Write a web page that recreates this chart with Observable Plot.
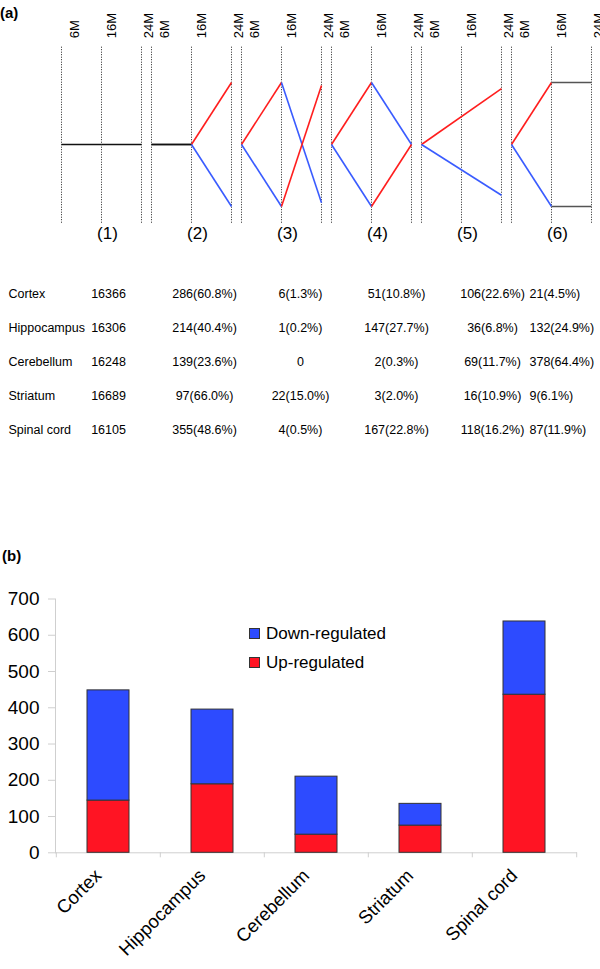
<!DOCTYPE html>
<html><head><meta charset="utf-8">
<script src="https://cdn.jsdelivr.net/npm/d3@7"></script>
<script src="https://cdn.jsdelivr.net/npm/@observablehq/plot@0.6"></script>
<style>
body{margin:0;background:#fff;font-family:"Liberation Sans",Arial,Helvetica,sans-serif;}
#wrap{position:relative;width:600px;height:969px;overflow:hidden;background:#fff;}
.svgbox{position:absolute;left:0;}
.panel{position:absolute;font-weight:bold;font-size:15px;line-height:15px;color:#000;}
.lg{position:absolute;font-size:17px;line-height:17px;color:#000;white-space:nowrap;}
.sw{position:absolute;width:9px;height:9px;border:0.6px solid #333;}
</style></head><body><div id="wrap"></div>
<script>
// ---------- (a) pattern diagram ----------
const patterns = ["(1)","(2)","(3)","(4)","(5)","(6)"];
const timePoints = ["6M","16M","24M"];
// each path: pattern index, time indices visited, relative expression level at those times
const pathPattern = [0,1,1,2,2,3,3,4,4,5,5];
const pathTimes = [[0,1,2],[0,1,2],[0,1,2],[0,1,2],[0,1,2],[0,1,2],[0,1,2],[0,2],[0,2],[0,1,2],[0,1,2]];
const pathLevels = [[0,0,0],[0,0,1],[0,0,-1],[0,1,-0.94],[0,-1,0.95],[0,1,0],[0,-1,0],[0,0.9],[0,-0.82],[0,1,1],[0,-1,-1]];

// ---------- (a) table ----------
const tissues = ["Cortex","Hippocampus","Cerebellum","Striatum","Spinal cord"];
const pattern1 = ["16366","16306","16248","16689","16105"];
const pattern2 = ["286(60.8%)","214(40.4%)","139(23.6%)","97(66.0%)","355(48.6%)"];
const pattern3 = ["6(1.3%)","1(0.2%)","0","22(15.0%)","4(0.5%)"];
const pattern4 = ["51(10.8%)","147(27.7%)","2(0.3%)","3(2.0%)","167(22.8%)"];
const pattern5 = ["106(22.6%)","36(6.8%)","69(11.7%)","16(10.9%)","118(16.2%)"];
const pattern6 = ["21(4.5%)","132(24.9%)","378(64.4%)","9(6.1%)","87(11.9%)"];

// ---------- (b) stacked bars ----------
const series = ["Up-regulated","Down-regulated"];
const upRegulated = [144,189,50,75,436];
const downRegulated = [304,206,160,60,202];
const yTicks = [0,100,200,300,400,500,600,700];

const FONT = '"Liberation Sans", Arial, Helvetica, sans-serif';
const wrap = document.getElementById("wrap");
function place(node, top){ const d=document.createElement("div"); d.className="svgbox"; d.style.top=top+"px"; d.appendChild(node); wrap.appendChild(d); }
function html(cls, text, left, top, extra){ const d=document.createElement("div"); d.className=cls; d.textContent=text; d.style.left=left+"px"; d.style.top=top+"px"; if(extra) Object.assign(d.style, extra); wrap.appendChild(d); return d; }

// diagram
const pos = (p, t) => p*9 + t*4;
const segs = [];
pathPattern.forEach((p,k)=>{
  const ts = pathTimes[k], ls = pathLevels[k];
  for (let j=0;j<ts.length-1;j++) segs.push({x1:pos(p,ts[j]), y1:ls[j], x2:pos(p,ts[j+1]), y2:ls[j+1]});
});
const grid = patterns.flatMap((p,i)=>timePoints.map((t,j)=>({label:t, t:j, x:pos(i,j)})));
const segColor = s => s.y2>s.y1 ? "#ff1e1e" : s.y2<s.y1 ? "#3a5cff" : (s.y1===0 ? "#111111" : "#555555");
const labelShift = [8.5, 5.5, 2.5];

const diagram = Plot.plot({
  width:600, height:250, marginLeft:61, marginRight:9, marginTop:46.7, marginBottom:26.7,
  x:{domain:[0,53], axis:null}, y:{domain:[-1.28,1.57], axis:null},
  color:{type:"identity"},
  style:{fontFamily:FONT, background:"white", color:"black"},
  marks:[
    Plot.ruleX(grid,{x:"x", stroke:"#222", strokeWidth:1, strokeDasharray:"1,1.5"}),
    Plot.link(segs,{x1:"x1",y1:"y1",x2:"x2",y2:"y2", stroke:segColor, strokeWidth:1.6}),
    ...timePoints.map((tp,j)=>Plot.text(grid.filter(g=>g.t===j),{x:"x", text:"label", frameAnchor:"top", rotate:-90, textAnchor:"start", dy:-9, dx:labelShift[j], fontSize:13})),
    Plot.text(patterns,{x:(d,i)=>pos(i,1), text:d=>d, frameAnchor:"bottom", dy:14.7, dx:6, fontSize:17})
  ]
});
place(diagram, 0);

// table
const cols = ["c1","c2","c3","c4","c5"];
const rows = tissues.map((t,i)=>({t, c1:pattern1[i], c2:pattern2[i], c3:pattern3[i], c4:pattern4[i], c5:pattern5[i], c6:pattern6[i]}));
const cells = rows.flatMap(r=>cols.map(c=>({t:r.t, c, text:r[c]})));
const table = Plot.plot({
  width:600, height:210, marginTop:41, marginBottom:30, marginLeft:107, marginRight:107,
  x:{type:"point", domain:cols, padding:0, axis:null},
  y:{type:"point", domain:tissues, padding:0, axis:null},
  style:{fontFamily:FONT, background:"white", color:"black"},
  marks:[
    Plot.text(rows,{y:"t", text:"t", frameAnchor:"left", textAnchor:"start", dx:-99, fontSize:12.5}),
    Plot.text(cells,{x:"c", y:"t", text:"text", fontSize:12.5}),
    Plot.text(rows,{x:()=>"c5", y:"t", text:"c6", textAnchor:"start", dx:37, fontSize:12.5})
  ]
});
place(table, 250);

// bars
const stack = tissues.flatMap((t,i)=>[{t, kind:series[0], v:upRegulated[i]},{t, kind:series[1], v:downRegulated[i]}]);
const bars = Plot.plot({
  width:600, height:409, marginTop:38.5, marginBottom:116.7, marginLeft:55, marginRight:23,
  x:{domain:tissues, paddingInner:0.594, paddingOuter:0.297, axis:null},
  y:{domain:[0,700], axis:null},
  color:{domain:series, range:["#ff1423","#2d4bff"]},
  style:{fontFamily:FONT, background:"white", color:"black"},
  marks:[
    Plot.frame({anchor:"left", stroke:"#cfcfcf"}),
    Plot.ruleY([0],{stroke:"#cfcfcf"}),
    Plot.axisY({ticks:yTicks, tickSize:7, tickPadding:9, stroke:"#cfcfcf", fill:"#000", fontSize:19, label:null, tickFormat:d=>String(d)}),
    Plot.axisX({tickSize:5, tickFormat:()=>"", dx:-52.2, stroke:"#cfcfcf", label:null}),
    Plot.axisX({ticks:[tissues[tissues.length-1]], tickSize:5, tickFormat:()=>"", dx:52.2, stroke:"#cfcfcf", label:null}),
    Plot.barY(stack,{x:"t", y:"v", fill:"kind", stroke:"#333", strokeWidth:1}),
    Plot.text(tissues,{x:d=>d, text:d=>d, frameAnchor:"bottom", rotate:-45, textAnchor:"end", dx:-6, dy:24, fontSize:18.5})
  ]
});
place(bars, 560);

// panel labels and legend
html("panel","(a)",0,5);
html("panel","(b)",2,548);
html("sw","",249,628,{background:"#2d4bff"});
html("sw","",249,657,{background:"#ff1423"});
html("lg","Down-regulated",266,625);
html("lg","Up-regulated",266,654);
</script></body></html>
